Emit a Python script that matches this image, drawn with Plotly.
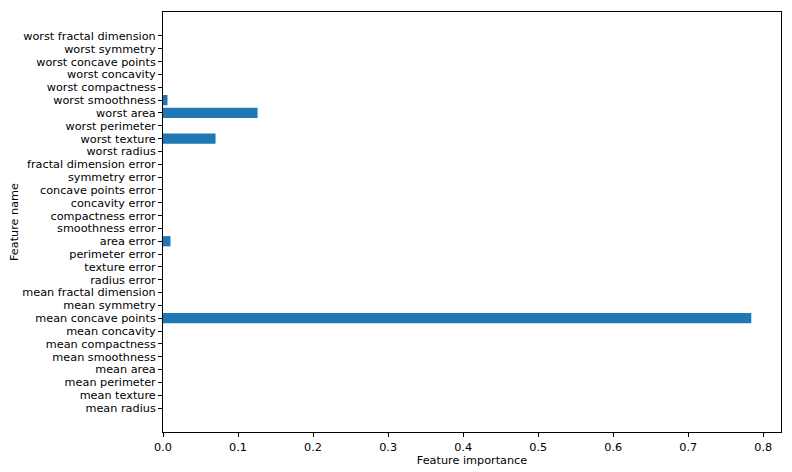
import plotly.graph_objects as go

features = ["mean radius", "mean texture", "mean perimeter", "mean area", "mean smoothness",
            "mean compactness", "mean concavity", "mean concave points", "mean symmetry",
            "mean fractal dimension", "radius error", "texture error", "perimeter error",
            "area error", "smoothness error", "compactness error", "concavity error",
            "concave points error", "symmetry error", "fractal dimension error",
            "worst radius", "worst texture", "worst perimeter", "worst area",
            "worst smoothness", "worst compactness", "worst concavity",
            "worst concave points", "worst symmetry", "worst fractal dimension"]
importance = [0, 0, 0, 0, 0, 0, 0, 0.784, 0, 0, 0, 0, 0, 0.010, 0, 0, 0, 0, 0, 0,
              0, 0.070, 0, 0.126, 0.006, 0, 0, 0, 0, 0]
x_ticks = [0.0, 0.1, 0.2, 0.3, 0.4, 0.5, 0.6, 0.7, 0.8]

fig = go.Figure(go.Bar(
    x=importance, y=features, orientation="h",
    marker=dict(color="#1f77b4", line=dict(width=0)),
    width=0.8,
))

font = "DejaVu Sans, sans-serif"
fig.update_layout(
    width=784, height=464,
    margin=dict(l=155, r=11, t=4, b=40),
    paper_bgcolor="white", plot_bgcolor="white",
    font=dict(family=font, size=11.25, color="black"),
    showlegend=False,
)
fig.update_xaxes(
    range=[0, 0.8236], tickmode="array", tickvals=x_ticks,
    ticktext=[f"{v:.1f}" for v in x_ticks], automargin=False,
    showgrid=False, zeroline=False, showline=True, linecolor="black", linewidth=1,
    mirror=True, ticks="outside", ticklen=4, tickwidth=1, tickcolor="black",
    title=dict(text="Feature importance", standoff=3, font=dict(size=11.25)),
)
fig.update_yaxes(
    type="category", categoryorder="array", categoryarray=features,
    tickmode="array", tickvals=features, ticktext=features,
    range=[-1.87, 30.87], automargin=False,
    showgrid=False, zeroline=False, showline=True, linecolor="black", linewidth=1,
    mirror=True, ticks="outside", ticklen=4, tickwidth=1, tickcolor="black",
    title=dict(text="Feature name", standoff=5, font=dict(size=11.25)),
)
fig.write_html("out.html")
